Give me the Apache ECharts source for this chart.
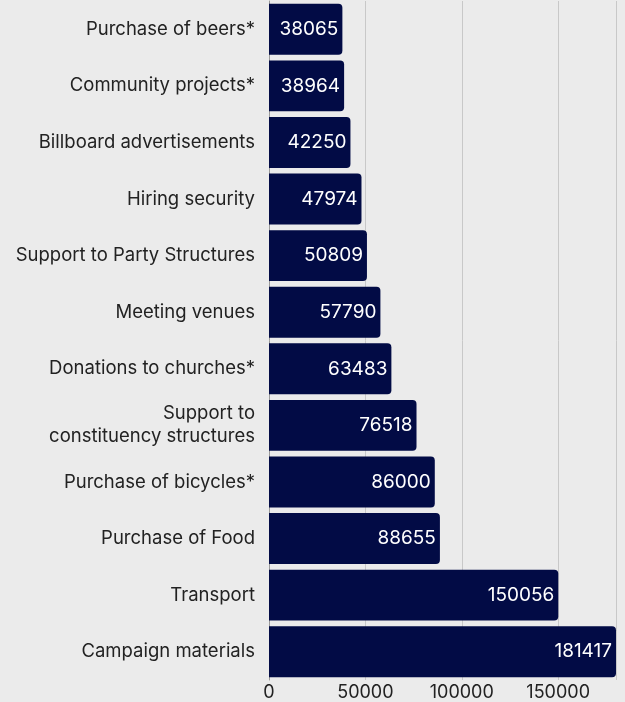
<!DOCTYPE html>
<html>
<head>
<meta charset="utf-8">
<script src="https://cdn.jsdelivr.net/npm/echarts@6/dist/echarts.min.js"></script>
<style>
  html, body { margin: 0; padding: 0; background: #ebebeb; }
  #chart { width: 625px; height: 702px; }
</style>
</head>
<body>
<div id="chart"></div>
<script>
// Campaign spending by item (listed bottom to top)
const categories = [
  'Campaign materials',
  'Transport',
  'Purchase of Food',
  'Purchase of bicycles*',
  'Support to\nconstituency structures',
  'Donations to churches*',
  'Meeting venues',
  'Support to Party Structures',
  'Hiring security',
  'Billboard advertisements',
  'Community projects*',
  'Purchase of beers*'
];
const amounts = [181417, 150056, 88655, 86000, 76518, 63483, 57790, 50809, 47974, 42250, 38964, 38065];
const xTicks = [0, 50000, 100000, 150000];

const FONT = 'Inter, "Noto Sans", sans-serif';
const chart = echarts.init(document.getElementById('chart'));
chart.setOption({
  backgroundColor: '#ebebeb',
  animation: false,
  grid: { left: 269, right: 9, top: 1, bottom: 21, containLabel: false },
  xAxis: {
    type: 'value',
    min: 0,
    max: 180000,
    interval: 50000,
    axisLine: { show: false },
    axisTick: { show: false },
    splitLine: { show: true, lineStyle: { color: '#c8c8c8', width: 1 } },
    axisLabel: {
      showMaxLabel: false,
      margin: 4,
      fontFamily: FONT,
      fontSize: 18,
      color: '#222',
      formatter: v => xTicks.includes(v) ? String(v) : ''
    }
  },
  yAxis: {
    type: 'category',
    data: categories,
    axisLine: { show: true, lineStyle: { color: '#999', width: 1 } },
    axisTick: { show: false },
    axisLabel: {
      margin: 14,
      fontFamily: FONT,
      fontSize: 18.5,
      color: '#222',
      align: 'right',
      lineHeight: 23
    }
  },
  series: [{
    type: 'bar',
    data: amounts,
    barCategoryGap: '10%',
    clip: true,
    itemStyle: { color: '#020b45', borderRadius: [0, 4, 4, 0] },
    label: {
      show: true,
      position: 'insideRight',
      distance: 4,
      fontFamily: FONT,
      fontSize: 19,
      color: '#ffffff'
    }
  }]
});
</script>
</body>
</html>
